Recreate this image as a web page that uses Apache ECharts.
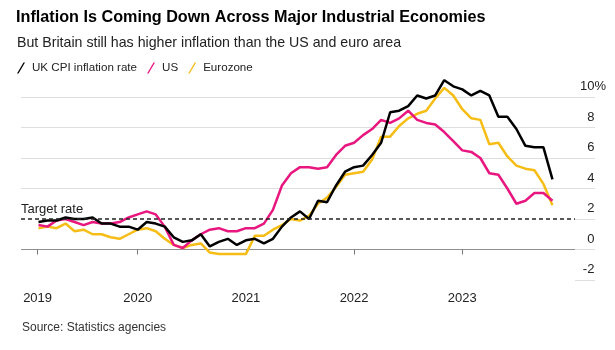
<!DOCTYPE html>
<html>
<head>
<meta charset="utf-8">
<script src="https://cdn.jsdelivr.net/npm/echarts@6/dist/echarts.min.js"></script>
<style>
	html, body { margin: 0; padding: 0; background: #fff; }
	#chart { width: 615px; height: 350px; }
</style>
</head>
<body>
<div id="chart"></div>
<script>
// monthly CPI, y/y %, Jan 2019 .. Oct 2023
const ukCpi = [
	1.8, 1.9, 1.9, 2.1, 2.0, 2.0, 2.1, 1.7, 1.7, 1.5, 1.5, 1.3,
	1.8, 1.7, 1.5, 0.8, 0.5, 0.6, 1.0, 0.2, 0.5, 0.7, 0.3, 0.6,
	0.7, 0.4, 0.7, 1.5, 2.1, 2.5, 2.0, 3.2, 3.1, 4.2, 5.1, 5.4,
	5.5, 6.2, 7.0, 9.0, 9.1, 9.4, 10.1, 9.9, 10.1, 11.1, 10.7, 10.5,
	10.1, 10.4, 10.1, 8.7, 8.7, 7.9, 6.8, 6.7, 6.7, 4.6,
]
const usCpi = [
	1.6, 1.5, 1.9, 2.0, 1.8, 1.6, 1.8, 1.7, 1.7, 1.8, 2.1, 2.3,
	2.5, 2.3, 1.5, 0.3, 0.1, 0.6, 1.0, 1.3, 1.4, 1.2, 1.2, 1.4,
	1.4, 1.7, 2.6, 4.2, 5.0, 5.4, 5.4, 5.3, 5.4, 6.2, 6.8, 7.0,
	7.5, 7.9, 8.5, 8.3, 8.6, 9.1, 8.5, 8.3, 8.2, 7.7, 7.1, 6.5,
	6.4, 6.0, 5.0, 4.9, 4.0, 3.0, 3.2, 3.7, 3.7, 3.2,
]
const euroCpi = [
	1.4, 1.5, 1.4, 1.7, 1.2, 1.3, 1.0, 1.0, 0.8, 0.7, 1.0, 1.3,
	1.4, 1.2, 0.7, 0.3, 0.1, 0.3, 0.4, -0.2, -0.3, -0.3, -0.3, -0.3,
	0.9, 0.9, 1.3, 1.6, 2.0, 1.9, 2.2, 3.0, 3.4, 4.1, 4.9, 5.0,
	5.1, 5.9, 7.4, 7.4, 8.1, 8.6, 8.9, 9.1, 9.9, 10.6, 10.1, 9.2,
	8.6, 8.5, 6.9, 7.0, 6.1, 5.5, 5.3, 5.2, 4.3, 2.9,
]
const seriesNames = ['UK CPI inflation rate', 'US', 'Eurozone']
const yearTicks = [0.9, 12, 24, 36, 48]   // months since Jan 2019
const yearLabels = ['2019', '2020', '2021', '2022', '2023']
const targetRate = 2

const font = "'Liberation Sans', Arial, sans-serif"
const toPoints = arr => arr.map((v, i) => [i + 1, v])   // plotted at month end

const chart = echarts.init(document.getElementById('chart'))

const gridColor = '#dedede'
const slash = 'path://M0,11 L6.5,0 L8,0 L1.5,11 Z'

chart.setOption({
	animation: false,
	textStyle: { fontFamily: font },
	title: [
		{
			text: 'Inflation Is Coming Down Across Major Industrial Economies',
			left: 16, top: 10, padding: 0,
			textStyle: { fontSize: 16.2, fontWeight: 'bold', color: '#000', fontFamily: font },
		},
		{
			text: 'But Britain still has higher inflation than the US and euro area',
			left: 17, top: 36, padding: 0,
			textStyle: { fontSize: 14.2, fontWeight: 'normal', color: '#222', fontFamily: font },
		},
		{
			text: 'Source: Statistics agencies',
			left: 22, top: 322, padding: 0,
			textStyle: { fontSize: 12, fontWeight: 'normal', color: '#333', fontFamily: font },
		},
	],
	legend: {
		left: 17, top: 62, padding: 0,
		itemWidth: 8, itemHeight: 11, itemGap: 10,
		icon: slash,
		textStyle: { fontSize: 11.6, color: '#222', padding: [0, 0, 0, 2] },
		data: seriesNames,
	},
	grid: [
		{ left: 21, right: 40, top: 97, bottom: 70 },
		{ left: 575, right: 20, top: 97, bottom: 70 },
	],
	xAxis: [
		{
			type: 'value', gridIndex: 0, min: -0.94, max: 60.5,
			axisLine: { show: false },
			splitLine: { show: false },
			axisTick: { show: true, customValues: yearTicks, length: 5, lineStyle: { color: '#777' } },
			axisLabel: {
				customValues: yearTicks, margin: 12, fontSize: 13, color: '#222',
				formatter: v => yearLabels[yearTicks.indexOf(v)],
			},
		},
		{ type: 'value', gridIndex: 1, min: 0, max: 1, show: false },
	],
	yAxis: [
		{
			type: 'value', gridIndex: 0, position: 'right', min: -2, max: 10, interval: 2,
			axisLine: { show: false }, axisTick: { show: false },
			splitLine: {
				lineStyle: {
					color: ['rgba(0,0,0,0)', '#8f8f8f', 'rgba(0,0,0,0)', gridColor, gridColor, gridColor, gridColor],
					width: 1,
				},
			},
			axisLabel: {
				align: 'right', verticalAlign: 'bottom', margin: 31, padding: [0, 0, 4, 0],
				formatter: v => (v === 10 ? '{n|10}{n|%}' : '{n|' + v + '}{e|}'),
				rich: {
					n: { fontSize: 13, color: '#222', fontFamily: font },
					e: { width: 11.6 },
				},
			},
		},
		{
			type: 'value', gridIndex: 1, min: -2, max: 10, interval: 2,
			axisLine: { show: false }, axisTick: { show: false }, axisLabel: { show: false },
			splitLine: { lineStyle: { color: gridColor, width: 1 } },
		},
	],
	series: [
		{
			name: seriesNames[2], type: 'line', z: 2, clip: false,
			data: toPoints(euroCpi), showSymbol: false,
			lineStyle: { width: 2.5, color: '#f6bd16' }, itemStyle: { color: '#f6bd16' },
		},
		{
			name: seriesNames[1], type: 'line', z: 3, clip: false,
			data: toPoints(usCpi), showSymbol: false,
			lineStyle: { width: 2.5, color: '#e8177f' }, itemStyle: { color: '#e8177f' },
		},
		{
			name: seriesNames[0], type: 'line', z: 4, clip: false,
			data: toPoints(ukCpi), showSymbol: false,
			lineStyle: { width: 2.5, color: '#000' }, itemStyle: { color: '#000' },
			markLine: {
				silent: true, symbol: 'none',
				lineStyle: { type: [4, 3], color: '#222', width: 1.5 },
				label: {
					show: true, position: 'insideStartTop', formatter: 'Target rate',
					fontSize: 13, color: '#222', distance: [0, 3],
				},
				data: [{ yAxis: targetRate }],
			},
		},
	],
})
</script>
</body>
</html>
